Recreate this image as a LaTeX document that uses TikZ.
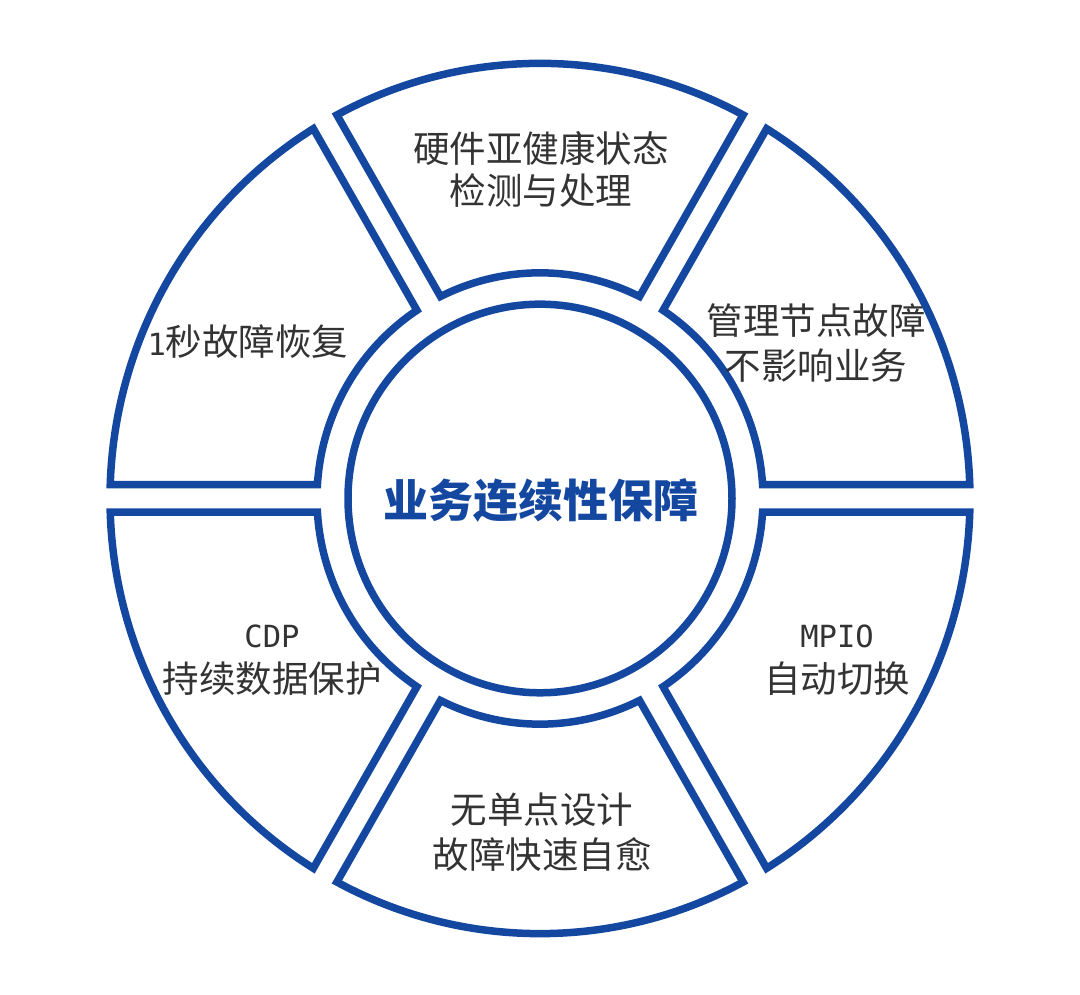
\documentclass[tikz,border=0pt]{standalone}
\usepackage{fontspec}
\newfontfamily\cjk{Noto Sans CJK SC}
\newfontfamily\mono{DejaVu Sans Mono}
\newcommand\latn[1]{{\mono\fontsize{30.5}{45}\selectfont #1}}
\definecolor{ringblue}{HTML}{1448A0}
\definecolor{txtgray}{HTML}{333333}
\tikzset{
  seg/.style={draw=ringblue, line width=7.5pt, line join=miter},
  hub/.style={draw=ringblue, line width=7.5pt},
  lbl/.style={text=txtgray, align=center, font=\cjk\fontsize{36.5}{45}\selectfont, inner sep=0pt},
  title/.style={text=ringblue, font=\cjk\bfseries\fontsize{45}{50}\selectfont, inner sep=0pt}
}
\begin{document}
\begin{tikzpicture}[x=1pt,y=1pt]
\fill[white] (0,0) rectangle (1080,995);
\useasboundingbox (0,0) rectangle (1080,995);
\def\Ro{430}
\def\Ri{223}
\def\Rc{192}
\def\h{13.6}
\begin{scope}[shift={(540,496.5)}, yscale=1.012]
  \foreach \a in {0,60,...,300}{
    \draw[seg] ({\a+asin(\h/\Ro)}:\Ro)
      arc[start angle={\a+asin(\h/\Ro)}, end angle={\a+60-asin(\h/\Ro)}, radius=\Ro pt]
      -- ({\a+60-asin(\h/\Ri)}:\Ri)
      arc[start angle={\a+60-asin(\h/\Ri)}, end angle={\a+asin(\h/\Ri)}, radius=\Ri pt]
      -- cycle;
  }
  \draw[hub] (0,0) circle[radius=\Rc pt];
\end{scope}
\node[title] (center) at (541,495) {业务连续性保障};
\node[lbl] (top) at (541,826) {硬件亚健康状态\\[-3pt]检测与处理};
\node[lbl] (topright) at (816,652) {管理节点故障\\不影响业务};
\node[lbl] (botright) at (837,335) {\latn{MPIO}\\自动切换};
\node[lbl] (bottom) at (542,163) {无单点设计\\故障快速自愈};
\node[lbl] (botleft) at (272,335) {\latn{CDP}\\持续数据保护};
\node[lbl] (topleft) at (248,653) {\latn{1}秒故障恢复};
\end{tikzpicture}
\end{document}
